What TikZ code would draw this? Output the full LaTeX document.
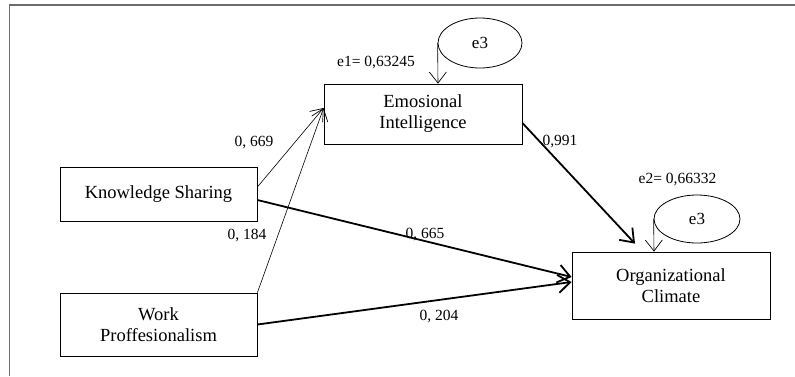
\documentclass[tikz,border=0pt]{standalone}
\usepackage{fontspec}
\setmainfont{Liberation Serif}
\usetikzlibrary{arrows.meta,shapes.geometric}

\tikzset{
  varbox/.style={draw, line width=0.8pt, rectangle, inner sep=0pt, align=center,
    font=\fontsize{18.5}{21}\selectfont},
  errvar/.style={draw, line width=0.8pt, ellipse, inner sep=0pt,
    font=\fontsize{17}{20}\selectfont},
  coef/.style={inner sep=0pt, font=\fontsize{15.5}{18}\selectfont},
  barb/.style={-{Straight Barb[length=11pt,width=17pt,line width=0.7pt]}},
  thinpath/.style={barb, line width=0.6pt},
  thickpath/.style={-{Straight Barb[length=12pt,width=18pt,line width=1.8pt]}, line width=1.8pt},
}

\begin{document}
\begin{tikzpicture}[x=1pt,y=-1pt]
  \useasboundingbox (0,0) rectangle (795,376);

  % frame
  \draw[line width=1.6pt, gray!85!black] (795,5) -- (9.5,5) -- (9.5,376);

  % observed variables
  \node[varbox, minimum width=197pt, minimum height=54pt] (ks) at (158.5,194) {Knowledge Sharing};
  \node[varbox, minimum width=197pt, minimum height=63pt] (wp) at (158.5,324.5) {Work\\Proffesionalism};
  \node[varbox, minimum width=198pt, minimum height=60pt] (ei) at (423,114) {Emosional\\Intelligence};
  \node[varbox, minimum width=198pt, minimum height=67pt] (oc) at (671,285.5) {Organizational\\Climate};

  % error terms
  \node[errvar, minimum width=84pt, minimum height=50pt] (ea) at (480,43) {e3};
  \node[errvar, minimum width=86pt, minimum height=48pt] (eb) at (697,219) {e3};

  % error paths
  \draw[thinpath] (ea.west) -- ([xshift=15pt]ei.north);
  \draw[thinpath] (eb.west) -- ([xshift=-17pt]oc.north);

  % structural paths
  \draw[thinpath] ([yshift=7pt]ks.east) -- ([yshift=6pt]ei.west);
  \draw[thinpath] (wp.north east) -- ([yshift=6pt]ei.west);
  \draw[thickpath] ([yshift=-6pt]ks.east) -- ([yshift=8.5pt]oc.west);
  \draw[thickpath] (wp.east) -- ([yshift=3.5pt]oc.west);
  \draw[thickpath] ([yshift=-9pt]ei.east) -- ([xshift=-36pt,yshift=8pt]oc.north);

  % coefficients
  \node[coef] (l1) at (376,63) {e1=~0,63245};
  \node[coef] (l2) at (677.5,180) {e2= 0,66332};
  \node[coef] (l3) at (254,143) {0, 669};
  \node[coef] (l4) at (247,236) {0, 184};
  \node[coef] (l5) at (560,142) {0,991};
  \node[coef] (l6) at (425,235) {0, 665};
  \node[coef] (l7) at (439,317) {0, 204};
\end{tikzpicture}
\end{document}
